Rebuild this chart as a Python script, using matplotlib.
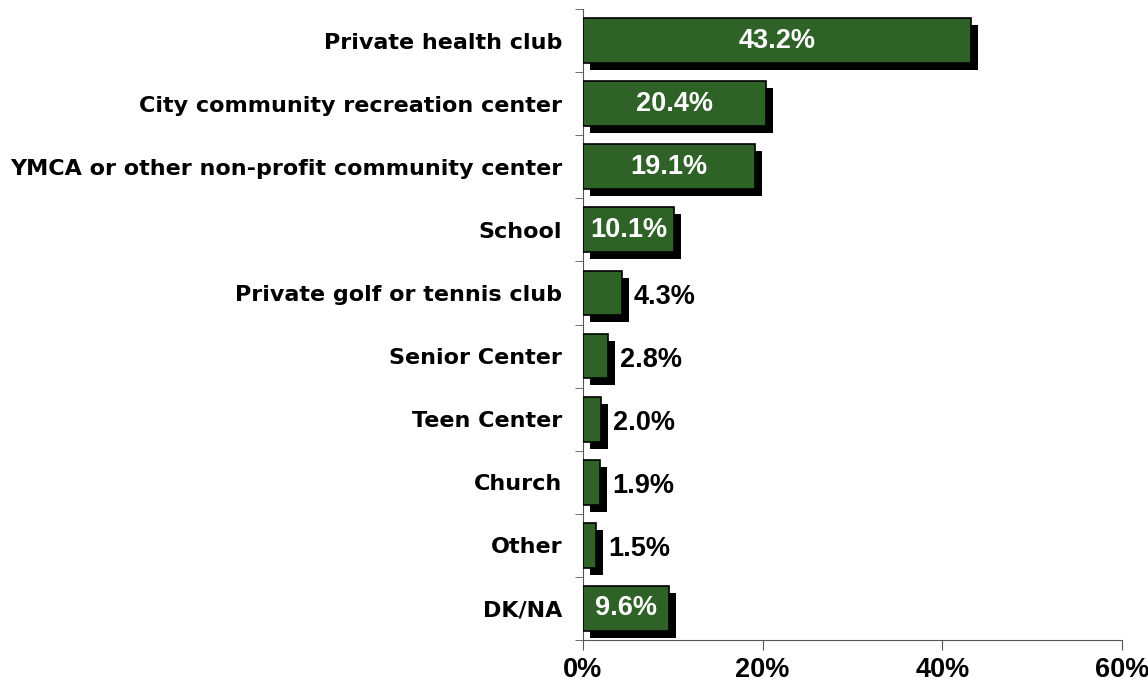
import matplotlib
matplotlib.use("Agg")
import matplotlib.pyplot as plt
import matplotlib.patheffects as pe
from matplotlib import font_manager
from matplotlib.textpath import TextPath
import numpy as np

# data (top to bottom)
places = ["Private health club", "City community recreation center",
          "YMCA or other non-profit community center", "School",
          "Private golf or tennis club", "Senior Center", "Teen Center",
          "Church", "Other", "DK/NA"]
pct = [43.2, 20.4, 19.1, 10.1, 4.3, 2.8, 2.0, 1.9, 1.5, 9.6]
xticks = [0, 20, 40, 60]

numprop = font_manager.FontProperties(family=["Liberation Sans", "DejaVu Sans"], weight="bold", size=17)
# size the number font so "43.2%" is about 76 px wide like in the original (~54.5 pt at 100 dpi)
w = TextPath((0, 0), "43.2%", size=17, prop=numprop).get_extents().width
numsize = min(22, max(14, 17 * 54.5 / w))
numprop.set_size(numsize)

fig = plt.figure(figsize=(11.48, 6.89), dpi=100)
ax = fig.add_axes([0.5078, 0.0711, 0.4696, 0.9158])

y = np.arange(len(places))
bars = ax.barh(y, pct, height=0.71, color="#2E6227", edgecolor="black", linewidth=1.2, zorder=3)
for b in bars:
    b.set_path_effects([pe.SimplePatchShadow(offset=(5, -5), shadow_rgbFace="black", alpha=1.0),
                        pe.Normal()])

# value labels: white inside the bigger bars, black outside the small ones
for i, v in enumerate(pct):
    if v >= 9:
        ax.text(v / 2, i, f"{v:.1f}%", ha="center", va="center", color="white",
                fontproperties=numprop, zorder=5)
    else:
        ax.text(v + 1.35, i + 0.06, f"{v:.1f}%", ha="left", va="center", color="black",
                fontproperties=numprop, zorder=5)

ax.set_xlim(0, 60)
ax.set_ylim(len(places) - 0.5, -0.5)
ax.set_xticks(xticks)
ax.set_xticklabels([f"{t}%" for t in xticks], fontproperties=numprop)
ax.set_yticks(y)
# the category labels are wide-spaced in the original, DejaVu Bold matches that width
ax.set_yticklabels(places, fontsize=16, fontweight="bold", family="DejaVu Sans")
ax.set_yticks(np.arange(len(places) + 1) - 0.5, minor=True)
ax.tick_params(axis="y", which="major", length=0, pad=15)
ax.tick_params(axis="y", which="minor", length=6, color="#555555", direction="out")
ax.tick_params(axis="x", length=7, color="#555555", pad=5)

for s in ["top", "right"]:
    ax.spines[s].set_visible(False)
for s in ["left", "bottom"]:
    ax.spines[s].set_color("#555555")

plt.savefig("out.png", dpi=100)
plt.close()
